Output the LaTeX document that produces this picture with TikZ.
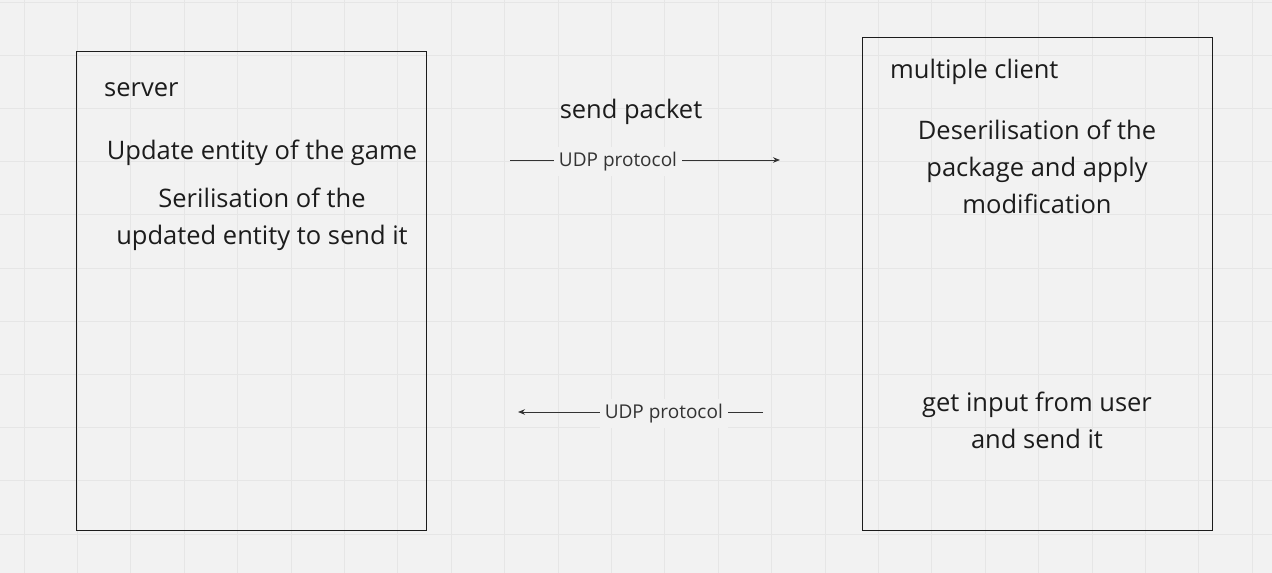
\documentclass[tikz,border=0pt]{standalone}
\usepackage{fontspec}
\setmainfont{Open Sans}
\usetikzlibrary{arrows.meta}
\definecolor{bg}{HTML}{F2F2F2}
\definecolor{gridc}{HTML}{E6E6E6}
\definecolor{ink}{HTML}{1C1C1C}
\definecolor{lbl}{HTML}{333333}
\tikzset{
  panel/.style={draw=ink, line width=1pt},
  big/.style={font=\fontsize{25.5}{37}\selectfont, text=ink, inner sep=0pt, align=center},
  small/.style={font=\fontsize{19}{22}\selectfont, text=lbl, fill=bg, inner sep=5pt, yshift=-1.5pt},
  link/.style={draw=lbl, line width=0.9pt, -{Stealth[length=7pt,width=5.5pt]}}
}
\begin{document}
\begin{tikzpicture}[x=1pt,y=-1pt]
\useasboundingbox (0,0) rectangle (1272,573);
\fill[bg] (0,0) rectangle (1272,573);
\foreach \i in {0,...,23} \draw[gridc, line width=0.8pt] (24+53.4*\i,0) -- (24+53.4*\i,573);
\foreach \j in {0,...,10} \draw[gridc, line width=0.8pt] (0,2+53.2*\j) -- (1272,2+53.2*\j);

\node[panel, minimum width=350, minimum height=479, inner sep=0pt] (server) at (251,290.5) {};
\node[panel, minimum width=350, minimum height=493, inner sep=0pt] (client) at (1037,283.5) {};

\node[big, anchor=west] (srvlbl) at (104,90) {server};
\node[big] (upd) at (262,153) {Update entity of the game};
\node[big] (ser) at (262,219.5) {Serilisation of the\\updated entity to send it};

\node[big, anchor=west] (clilbl) at (890,72) {multiple client};
\node[big] (des) at (1037,167) {Deserilisation of the\\package and apply\\modification};
\node[big] (inp) at (1037,420.5) {get input from user\\and send it};

\node[big] (send) at (631,112) {send packet};

\coordinate (a1) at (510,160);
\coordinate (b1) at (780,160);
\coordinate (a2) at (763,412);
\coordinate (b2) at (518,412);
\draw[link] (a1) -- node[small, pos=0.4] (u1) {UDP protocol} (b1);
\draw[link] (a2) -- node[small, pos=0.405] (u2) {UDP protocol} (b2);
\end{tikzpicture}
\end{document}
